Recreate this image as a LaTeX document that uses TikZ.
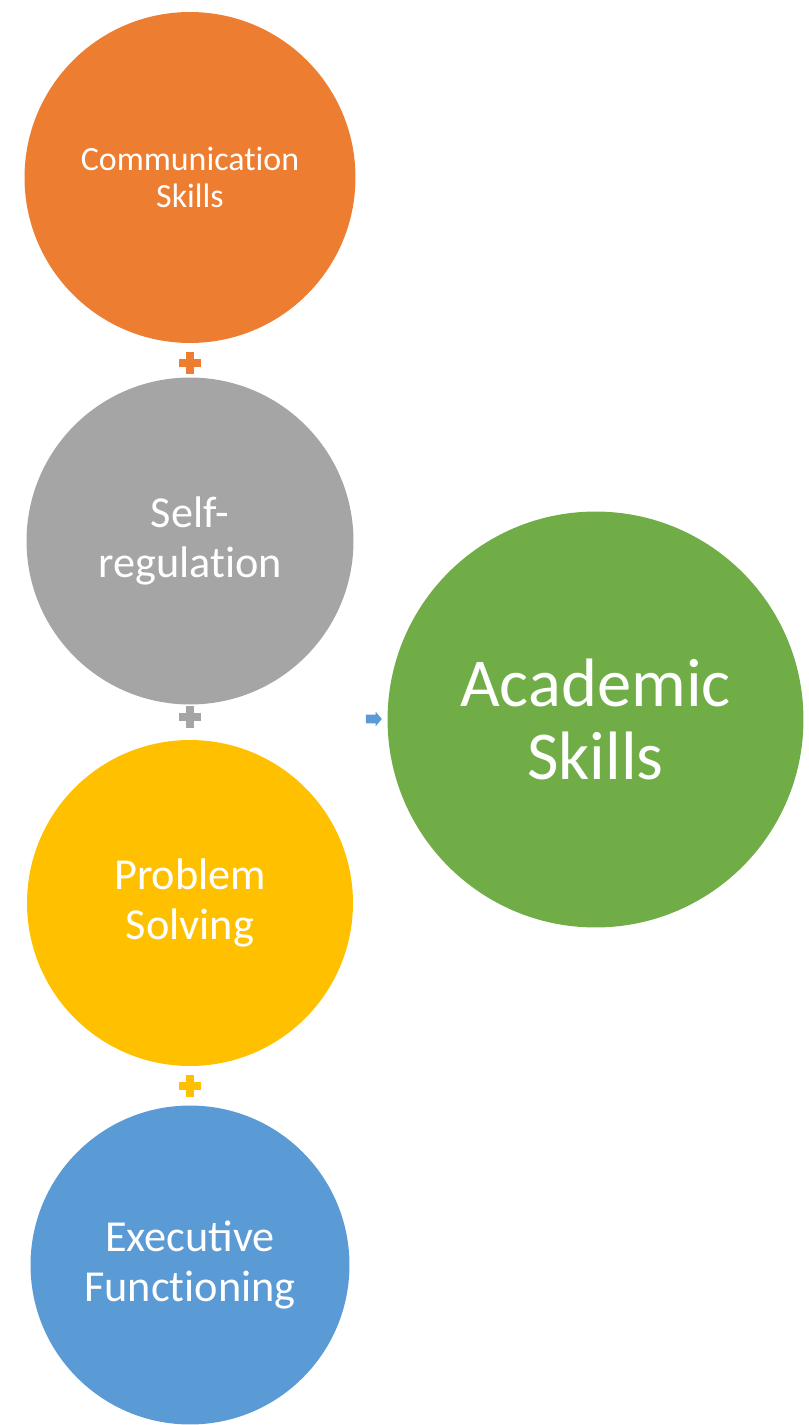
\documentclass[tikz,border=0pt]{standalone}
\usepackage{fontspec}
\setmainfont{Carlito}
\usetikzlibrary{positioning}
\usetikzlibrary{shapes.arrows}
\definecolor{comm colour}{HTML}{ED7D31}
\definecolor{self colour}{HTML}{A5A5A5}
\definecolor{problem colour}{HTML}{FFC000}
\definecolor{exec colour}{HTML}{5B9BD5}
\definecolor{academic colour}{HTML}{70AD47}
% Keeps t and i apart (no ligature)
\newcommand{\nolig}{\kern0pt}
\tikzset{
    % All skills are plain filled discs with white text
    skill/.style={
        circle, draw=none, text=white, align=center, inner sep=0pt},
    small text/.style={font=\fontsize{19.3}{21}\selectfont},
    medium text/.style={font=\fontsize{25.2}{28}\selectfont},
    large text/.style={font=\fontsize{39}{42}\selectfont},
%
    % The little arrow pointing at the result
    result arrow/.style={
        single arrow, fill=exec colour, draw=none, inner sep=0pt,
        minimum height=0.32cm, single arrow head extend=0.06cm,
        single arrow tip angle=100},
%
    % Plus sign between two skills
    pics/plus sign/.style={
        code={
            \fill [#1] (-0.22cm,-0.08cm) rectangle (0.22cm,0.08cm);
            \fill [#1] (-0.08cm,-0.22cm) rectangle (0.08cm,0.22cm);}},
}

\begin{document}
\begin{tikzpicture}[
    x=0.02cm, y=0.02cm]

\useasboundingbox (0,0) rectangle (808,-1425);

\path
    (190,-177.5) node [skill, small text, fill=comm colour,
        minimum size=6.62cm] (comm) {Communicat\nolig ion\\Skills}
    (190,-541) node [skill, medium text, fill=self colour,
        minimum size=6.54cm] (self) {Self-\\regulat\nolig ion}
    (190,-903) node [skill, medium text, fill=problem colour,
        minimum size=6.52cm] (problem) {Problem\\Solving}
    (190,-1265) node [skill, medium text, fill=exec colour,
        minimum size=6.38cm] (exec) {Executive\\Funct\nolig ioning}
    (595.5,-719.5) node [skill, large text, fill=academic colour,
        minimum size=8.32cm] (academic) {Academic\\Skills};

\path (190,-363) pic {plus sign=comm colour};
\path (190,-717) pic {plus sign=self colour};
\path (190,-1086) pic {plus sign=problem colour};

\node [result arrow] (arrow) at (372,-719) {\rule{0pt}{0.16cm}};

\end{tikzpicture}
\end{document}
